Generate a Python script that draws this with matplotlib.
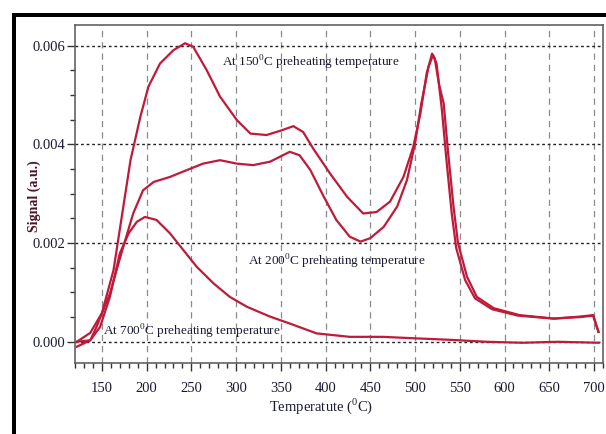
# -*- coding: utf-8 -*-
# TPD style signal vs temperature, three preheating temperatures

# %% importing
import matplotlib as mpl
from matplotlib import pyplot as plt
from matplotlib.patches import Rectangle
from matplotlib.ticker import MultipleLocator, FormatStrFormatter

mpl.rcParams['font.family'] = ['Liberation Serif', 'DejaVu Serif']
mpl.rcParams['mathtext.fontset'] = 'custom'
mpl.rcParams['mathtext.rm'] = 'Liberation Serif'

# %% data
# at 150 C preheating
temp_150 = [122, 137, 150, 163, 174, 182, 193, 202, 215, 230, 243, 252, 267, 282,
            301, 316, 334, 350, 364, 375, 386, 405, 424, 442, 457, 472, 487, 498,
            506, 513, 519, 522, 527, 532, 537, 543, 548, 558, 569, 588, 617, 655,
            684, 699, 705]
sig_150 = [0.0, 0.00018, 0.00058, 0.00145, 0.00274, 0.00368, 0.00456, 0.00517,
           0.00564, 0.00591, 0.00605, 0.00598, 0.00551, 0.00497, 0.00449, 0.00422,
           0.00419, 0.00428, 0.00437, 0.00425, 0.00392, 0.00341, 0.00294, 0.0026,
           0.00263, 0.00284, 0.00334, 0.00395, 0.00463, 0.00544, 0.00584, 0.00574,
           0.0052, 0.00483, 0.00382, 0.00274, 0.002, 0.00132, 0.00091, 0.00068,
           0.00054, 0.00047, 0.00051, 0.00054, 0.0002]

# at 200 C preheating
temp_200 = [122, 137, 144, 159, 174, 185, 196, 208, 226, 245, 263, 282, 301, 319,
            338, 360, 371, 383, 398, 412, 427, 439, 450, 465, 480, 491, 500, 507,
            515, 520, 524, 530, 535, 541, 546, 556, 567, 586, 615, 655, 684, 699,
            705]
sig_200 = [0.0, 0.00003, 0.0003, 0.00098, 0.00193, 0.0026, 0.00307, 0.00324,
           0.00334, 0.00348, 0.00361, 0.00368, 0.00361, 0.00358, 0.00365, 0.00385,
           0.00378, 0.00348, 0.00294, 0.00247, 0.00213, 0.00203, 0.0021, 0.00233,
           0.00274, 0.00328, 0.00402, 0.00483, 0.00557, 0.00581, 0.00564, 0.0047,
           0.0037, 0.0026, 0.0019, 0.00125, 0.00088, 0.00066, 0.00053, 0.00047,
           0.0005, 0.00053, 0.0002]

# at 700 C preheating
temp_700 = [122, 137, 148, 159, 170, 180, 189, 198, 211, 226, 241, 256, 275, 293,
            312, 338, 360, 390, 427, 464, 500, 539, 580, 620, 660, 705]
sig_700 = [-0.0001, 0.00003, 0.0003, 0.00091, 0.00179, 0.0022, 0.00243, 0.00253,
           0.00247, 0.0022, 0.00186, 0.00152, 0.00118, 0.00091, 0.00071, 0.00051,
           0.00037, 0.00017, 0.0001, 0.0001, 0.00007, 0.00004, 0.0, -0.00002, 0.0,
           -0.00002]

labels = [r'At 150$^{\rm 0}$C preheating temperature',
          r'At 200$^{\rm 0}$C preheating temperature',
          r'At 700$^{\rm 0}$C preheating temperature']
label_pos = [(384, 0.00565), (413, 0.00162), (251, 0.0002)]

line_col = '#C01A3A'
text_col = '#1a1a33'

# %% plotting
fig = plt.figure(figsize=(6.06, 4.34), dpi=100)
ax = fig.add_axes([0.1238, 0.1636, 0.8712, 0.7788])

for t, s in [(temp_150, sig_150), (temp_200, sig_200), (temp_700, sig_700)]:
    ax.plot(t, s, color=line_col, lw=1.6, solid_joinstyle='round')

ax.set_xlim(120, 710)
ax.set_ylim(-0.00043, 0.00642)

ax.xaxis.set_major_locator(MultipleLocator(50))
ax.xaxis.set_minor_locator(MultipleLocator(10))
ax.yaxis.set_major_locator(MultipleLocator(0.002))
ax.yaxis.set_minor_locator(MultipleLocator(0.0005))
ax.yaxis.set_major_formatter(FormatStrFormatter('%.3f'))
ax.set_xticks(range(150, 701, 50))

ax.grid(axis='x', which='major', color='#8a8a8a', ls=(0, (5, 4)), lw=0.9)
ax.grid(axis='y', which='major', color='#222222', ls=(0, (2, 2)), lw=1.0)

ax.tick_params(which='major', direction='out', length=6, width=1,
               color='#333333', labelsize=10.5, labelcolor=text_col)
ax.tick_params(which='minor', direction='out', length=3.5, width=1,
               color='#333333')
ax.tick_params(axis='x', which='major', pad=8)
ax.tick_params(axis='y', which='major', pad=1)

for sp in ax.spines.values():
    sp.set_color('#555555')
    sp.set_linewidth(1.1)

ax.set_ylabel('Signal (a.u.)', fontsize=10, fontweight='bold', color='#4a1525')
ax.yaxis.set_label_coords(-0.064, 0.495)
ax.set_xlabel(r'Temperatute ($^{\rm 0}$C)', fontsize=10.5, color=text_col)
ax.xaxis.set_label_coords(0.466, -0.100)

for lab, (x, y) in zip(labels, label_pos):
    ax.text(x, y, lab, fontsize=9.5, color=text_col, ha='center', va='center')

# black frame on the left and top of the picture
fig.add_artist(Rectangle((0.0203, 0.0), 0.0066, 0.9694,
                         transform=fig.transFigure, color='black', lw=0))
fig.add_artist(Rectangle((0.0203, 0.9602), 0.98, 0.0092,
                         transform=fig.transFigure, color='black', lw=0))

plt.savefig('out.png', dpi=100)
